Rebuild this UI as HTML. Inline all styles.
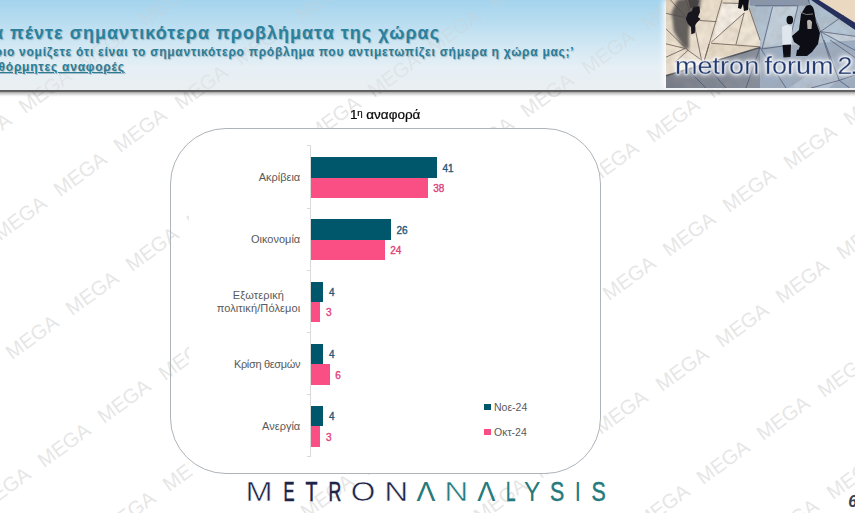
<!DOCTYPE html>
<html lang="el"><head><meta charset="utf-8"><title>Τα πέντε σημαντικότερα προβλήματα της χώρας</title>
<style>
html,body{margin:0;padding:0}
body{width:855px;height:513px;overflow:hidden;position:relative;background:#fff;font-family:"Liberation Sans",sans-serif}
.abs{position:absolute}
#hdr{position:absolute;left:0;top:0;width:855px;height:90px;background:linear-gradient(to bottom,#a4d4ee 0%,#b9ddf0 26%,#d3e8f3 52%,#e5eff5 74%,#ebeff2 100%)}
#hline{position:absolute;left:0;top:90px;width:855px;height:2.4px;background:linear-gradient(#5a5a5a,#686868)}
#hsh{position:absolute;left:0;top:92.4px;width:855px;height:4.6px;background:linear-gradient(rgba(0,0,0,.36),rgba(0,0,0,.14) 45%,rgba(0,0,0,.03) 80%,rgba(0,0,0,0))}
.t{position:absolute;white-space:nowrap;font-weight:bold;color:#2b7f9b;text-shadow:1px 1px 1px rgba(40,90,110,.35)}
#t1{left:-18.7px;top:22px;font-size:18px;letter-spacing:1.015px;line-height:22px;color:#2a819e}
#t2{left:-18.7px;top:45.2px;font-size:12px;letter-spacing:.745px;line-height:14px;color:#2c7c95}
#t3{left:-18.7px;top:60.2px;font-size:12px;letter-spacing:.78px;line-height:14px;color:#2c7c95;text-decoration:underline}
#wmh{position:absolute;left:0;top:0;width:855px;height:90px;overflow:hidden;opacity:.6}
#wmb{position:absolute;left:0;top:90px;width:855px;height:423px;overflow:hidden}
.wm{position:absolute;width:70px;height:24px;line-height:24px;text-align:center;font-size:20.2px;color:rgba(206,206,206,.52);transform:rotate(-36deg);white-space:nowrap}
#cw{position:absolute;left:189px;top:129px;width:411px;height:344px;background:#fff}
#box{position:absolute;left:170px;top:128px;width:429px;height:344px;border:1px solid #adb4ba;border-radius:56px}
#axis{position:absolute;left:310px;top:145.8px;width:1px;height:311px;background:#d9d9d9}
.tick{position:absolute;left:307px;width:4px;height:1px;background:#d9d9d9}
.bar{position:absolute;left:311.2px;height:20.4px}
.d{background:#00566b}
.p{background:#fa4f84}
.val{position:absolute;font-size:10px;line-height:14px;font-weight:normal;-webkit-text-stroke:.38px currentColor;white-space:nowrap}
.vd{color:#2a5a7a}
.vp{color:#e0457c}
.lab{position:absolute;right:554.8px;text-align:center;font-size:11px;line-height:13.1px;color:#595959;white-space:nowrap;transform:translateX(0)}
#ttl{position:absolute;left:350.2px;top:107.2px;white-space:nowrap;font-size:12px;line-height:16px;color:#0a0a0a;-webkit-text-stroke:.22px #0a0a0a;transform:scaleX(1.125);transform-origin:0 0}
#ttl sup{font-size:8.6px;line-height:0;vertical-align:3.4px;margin-left:-.3px}
.leg{position:absolute;left:494px;font-size:10.5px;line-height:12px;color:#595959;white-space:nowrap}
.lsq{position:absolute;left:484.4px;width:7px;height:6.2px}
#mf{position:absolute;left:675.2px;top:50.9px;font-size:24.6px;line-height:30px;transform:scaleX(1.1);transform-origin:0 0;color:#21376a;white-space:nowrap;-webkit-text-stroke:.4px rgba(205,215,232,.75);text-shadow:0 0 2px #fff,0 0 3px #fff,0 0 4px #fff,0 0 6px rgba(255,255,255,.85),0 0 8px rgba(255,255,255,.6)}
#pg{position:absolute;left:848.2px;top:493.8px;font-size:16px;line-height:16px;font-weight:bold;font-style:italic;color:#394152}
</style></head><body>
<div id="hdr"></div>
<div id="wmh"><span class="wm" style="left:10.0px;top:79.0px">MEGA</span><span class="wm" style="left:70.4px;top:35.3px">MEGA</span><span class="wm" style="left:130.8px;top:-8.4px">MEGA</span><span class="wm" style="left:165.8px;top:74.6px">MEGA</span><span class="wm" style="left:226.2px;top:30.9px">MEGA</span><span class="wm" style="left:286.6px;top:-12.8px">MEGA</span><span class="wm" style="left:359.0px;top:62.5px">MEGA</span><span class="wm" style="left:419.4px;top:18.8px">MEGA</span><span class="wm" style="left:479.8px;top:-24.9px">MEGA</span><span class="wm" style="left:512.2px;top:83.4px">MEGA</span><span class="wm" style="left:572.6px;top:39.7px">MEGA</span><span class="wm" style="left:633.0px;top:-4.0px">MEGA</span><span class="wm" style="left:697.9px;top:63.8px">MEGA</span><span class="wm" style="left:758.3px;top:20.1px">MEGA</span><span class="wm" style="left:818.7px;top:-23.6px">MEGA</span><span class="wm" style="left:835.2px;top:90.9px">MEGA</span></div><div id="wmb"><span class="wm" style="left:-50.4px;top:32.7px">MEGA</span><span class="wm" style="left:10.0px;top:-11.0px">MEGA</span><span class="wm" style="left:-15.4px;top:115.7px">MEGA</span><span class="wm" style="left:45.0px;top:72.0px">MEGA</span><span class="wm" style="left:105.4px;top:28.3px">MEGA</span><span class="wm" style="left:165.8px;top:-15.4px">MEGA</span><span class="wm" style="left:-63.8px;top:278.4px">MEGA</span><span class="wm" style="left:-3.4px;top:234.7px">MEGA</span><span class="wm" style="left:57.0px;top:191.0px">MEGA</span><span class="wm" style="left:117.4px;top:147.3px">MEGA</span><span class="wm" style="left:177.8px;top:103.6px">MEGA</span><span class="wm" style="left:238.2px;top:59.9px">MEGA</span><span class="wm" style="left:298.6px;top:16.2px">MEGA</span><span class="wm" style="left:359.0px;top:-27.5px">MEGA</span><span class="wm" style="left:-31.4px;top:386.7px">MEGA</span><span class="wm" style="left:29.0px;top:343.0px">MEGA</span><span class="wm" style="left:89.4px;top:299.3px">MEGA</span><span class="wm" style="left:149.8px;top:255.6px">MEGA</span><span class="wm" style="left:210.2px;top:211.9px">MEGA</span><span class="wm" style="left:270.6px;top:168.2px">MEGA</span><span class="wm" style="left:331.0px;top:124.5px">MEGA</span><span class="wm" style="left:391.4px;top:80.8px">MEGA</span><span class="wm" style="left:451.8px;top:37.1px">MEGA</span><span class="wm" style="left:512.2px;top:-6.6px">MEGA</span><span class="wm" style="left:93.9px;top:410.8px">MEGA</span><span class="wm" style="left:154.3px;top:367.1px">MEGA</span><span class="wm" style="left:214.7px;top:323.4px">MEGA</span><span class="wm" style="left:275.1px;top:279.7px">MEGA</span><span class="wm" style="left:335.5px;top:236.0px">MEGA</span><span class="wm" style="left:395.9px;top:192.3px">MEGA</span><span class="wm" style="left:456.3px;top:148.6px">MEGA</span><span class="wm" style="left:516.7px;top:104.9px">MEGA</span><span class="wm" style="left:577.1px;top:61.2px">MEGA</span><span class="wm" style="left:637.5px;top:17.5px">MEGA</span><span class="wm" style="left:697.9px;top:-26.2px">MEGA</span><span class="wm" style="left:291.6px;top:394.2px">MEGA</span><span class="wm" style="left:352.0px;top:350.5px">MEGA</span><span class="wm" style="left:412.4px;top:306.8px">MEGA</span><span class="wm" style="left:472.8px;top:263.1px">MEGA</span><span class="wm" style="left:533.2px;top:219.4px">MEGA</span><span class="wm" style="left:593.6px;top:175.7px">MEGA</span><span class="wm" style="left:654.0px;top:132.0px">MEGA</span><span class="wm" style="left:714.4px;top:88.3px">MEGA</span><span class="wm" style="left:774.8px;top:44.6px">MEGA</span><span class="wm" style="left:835.2px;top:0.9px">MEGA</span><span class="wm" style="left:465.3px;top:397.6px">MEGA</span><span class="wm" style="left:525.7px;top:353.9px">MEGA</span><span class="wm" style="left:586.1px;top:310.2px">MEGA</span><span class="wm" style="left:646.5px;top:266.5px">MEGA</span><span class="wm" style="left:706.9px;top:222.8px">MEGA</span><span class="wm" style="left:767.3px;top:179.1px">MEGA</span><span class="wm" style="left:827.7px;top:135.4px">MEGA</span><span class="wm" style="left:627.6px;top:403.7px">MEGA</span><span class="wm" style="left:688.0px;top:360.0px">MEGA</span><span class="wm" style="left:748.4px;top:316.3px">MEGA</span><span class="wm" style="left:808.8px;top:272.6px">MEGA</span><span class="wm" style="left:757.1px;top:418.7px">MEGA</span><span class="wm" style="left:817.5px;top:375.0px">MEGA</span></div>
<svg id="photo" width="189" height="88" viewBox="0 0 189 88" style="position:absolute;left:666px;top:0;box-shadow:-3px 0 5px rgba(255,255,255,.85)">
<defs>
<linearGradient id="gb" x1="0" y1="0" x2="1" y2="1"><stop offset="0" stop-color="#e9dbc6"/><stop offset=".5" stop-color="#efe5d6"/><stop offset="1" stop-color="#e0d1bb"/></linearGradient>
<linearGradient id="gbl" x1="0" y1="0" x2="0" y2="1"><stop offset="0" stop-color="#a9bbcd"/><stop offset=".6" stop-color="#b9c9d8"/><stop offset="1" stop-color="#95a6bb"/></linearGradient>
<linearGradient id="gw" x1="0" y1="0" x2="1" y2="0"><stop offset="0" stop-color="#767c87"/><stop offset=".5" stop-color="#858e9d"/><stop offset="1" stop-color="#93a2b7"/></linearGradient>
<filter id="bl1" x="-30%" y="-30%" width="160%" height="160%"><feGaussianBlur stdDeviation="1.5"/></filter>
<filter id="bl0" x="-30%" y="-30%" width="160%" height="160%"><feGaussianBlur stdDeviation=".55"/></filter>
<filter id="soft" x="0" y="0" width="100%" height="100%"><feGaussianBlur stdDeviation=".45"/></filter>
<filter id="nz" x="0" y="0" width="100%" height="100%"><feTurbulence type="fractalNoise" baseFrequency=".12" numOctaves="2" seed="7"/><feColorMatrix type="matrix" values="0 0 0 0 .35  0 0 0 0 .3  0 0 0 0 .25  .9 0 0 0 -.28"/></filter>
<clipPath id="pc"><rect width="189" height="88"/></clipPath>
</defs>
<g clip-path="url(#pc)"><g filter="url(#soft)">
<rect x="-2" y="-2" width="193" height="92" fill="url(#gb)"/>
<!-- lighter beige tiles -->
<polygon points="57,3 75,3.5 78,13 46,42" fill="#f5efe5"/>
<polygon points="29,28 50,22 42,46 36,60" fill="#efe4d3"/>
<polygon points="78,13 94,40 94,46 70,44.5" fill="#efe5d5"/>
<polygon points="0,0 30,0 19,17 0,13.5" fill="#e3d4be"/>
<polygon points="45.5,43.3 94,46.8 60,56 38,60" fill="#e6d9c5"/>
<!-- blue region -->
<polygon points="83,-2 191,-2 191,90 94,90 94,40 83,8" fill="url(#gbl)"/>
<polygon points="83,-2 145,-2 142,5.8 84,5.8" fill="#8796ad"/>
<polygon points="106.5,7 132,5.8 124,38 98,48" fill="#c1cfdc"/>
<polygon points="154.5,31.6 191,36 191,50 " fill="#c5d2de"/>
<polygon points="154.5,31.6 178,15 191,29 191,36" fill="#b3c4d4"/>
<!-- dark wedge bottom-left -->
<polygon points="-2,76.3 94,47.6 191,58 191,90 -2,90" fill="url(#gw)"/>
<polygon points="94,47.5 191,40 191,90 94,90" fill="#9dadc1"/>
<polygon points="120,90 164,60 173,80 160,90" fill="#b2c0d1"/>
<path d="M-2,76.3 L94,47.6" stroke="#3b3b44" stroke-width="1.6" fill="none" opacity=".85"/>
<rect x="0" y="0" width="189" height="88" filter="url(#nz)" opacity=".5"/>
<!-- navy band + beige corner -->
<polygon points="150,-2 191,-2 191,24" fill="#ead9c0"/>
<polygon points="142.2,-2 149.5,-2 191,24.06 191,31.2" fill="#252e5a"/>
<!-- tile lines -->
<g stroke="#70635a" stroke-width=".95" fill="none" stroke-linecap="round" opacity=".9">
<path d="M4.5,0 L21,18 M0.4,13.5 L19,17.5 M0.4,29.2 L22,50.3 L35.5,60 M0.4,43.9 L19,48.5 M29,28 L35.5,60 M56,0 L38.5,60 M33.8,20.5 L50,21.6 M45.5,43.3 L94,46.8 M45.5,42 L78.2,12.9 L70,44.4 M57,3 L74.7,3.5 M83,8 L94,40 M0.4,57 L19,48.5 M9.2,62 L22,50.3 M43,44.4 L38.4,60 M20,0 L29,28"/>
</g>
<g stroke="#3f4a66" stroke-width=".8" fill="none" opacity=".8">
<path d="M89,5.8 L132.3,5.8 M106.5,7 L96,49 M132,5.8 L124,38.6 M154.5,31.6 L189,36.3 M154.5,31.6 L189,50.3 M154.5,31.6 L164,60 M154.5,31.6 L142.2,0 M154.5,31.6 L178,15.2 M158,40 L173.2,80.4 L183.7,88 M189,57.5 L164,40 M173.2,80.4 L189,75 M173.2,80.4 L145,88 M96,49 L124,45 M35.5,60 L60,88 M22,70 L40,88 M94,47.5 L120,88 M94,47.5 L80,88"/>
</g>
<!-- figure 1 with shadow -->
<path d="M11,0 L24,-3 L35,-3 L34,8 L26,14 L23,30 L23,50 L17,47 L8,32 L5.5,13 Z" fill="#4e4a4a" opacity=".85" filter="url(#bl1)"/>
<path d="M27.5,6 L33.5,6.5 L34,12 L32,17 L34.5,19 L31,22.5 L29.3,25 L28.8,33 L25.3,34.2 L25,27 L22,24 L19.8,19 L22,13 L26,11 Z" fill="#15141c" filter="url(#bl0)"/>
<path d="M22,-1 Q28,-2 33,1 L31,7 L24,8 Z" fill="#403c3c" opacity=".8" filter="url(#bl0)"/>
<!-- figure 2 (legs at top) -->
<path d="M73,-1 L83,-1 L82,10 L78,11 L77,4 L75,9 L72,8 Z" fill="#0d0d14"/>
<!-- white shirt person -->
<ellipse cx="123.8" cy="20" rx="3.3" ry="4.2" fill="#0b0b12"/>
<path d="M116,27 Q121,23 126,27 L125.5,45 L116.5,46 Z" fill="#dfe6ee"/>
<path d="M116.5,45 L125,44.5 L124.5,57 L117.5,57.5 Z" fill="#0c0c12"/>
<!-- dark couple -->
<path d="M140,6 Q146,3 148,10 L150,22 L154,33 L152,44 L146,52 L141,56 L131,54 L134,46 L128,42 L126,36 L133,30 L135,14 Z" fill="#0b0b13" filter="url(#bl0)"/>
<path d="M141,21 Q143.5,18 146,22 L145.5,29 L141.5,29 Z" fill="#b9b4b0"/>
<path d="M134,12 Q140,16 147,14" stroke="#9a9690" stroke-width=".8" fill="none"/>
<path d="M131,50 L140,48 L141,56 L130,56 Z" fill="#0b0b13"/>
</g></g>
</svg>
<div id="mf">metron <span style="margin-left:-2px;letter-spacing:-.05px">forum</span><span style="margin-left:-3.2px"> <span style="letter-spacing:-2px">2</span>.0</span></div>

<div class="t" id="t1">Τα πέντε σημαντικότερα προβλήματα της χώρας</div>
<div class="t" id="t2">‘Ποιο νομίζετε ότι είναι το σημαντικότερο πρόβλημα που αντιμετωπίζει σήμερα η χώρα μας;’</div>
<div class="t" id="t3">Αυθόρμητες αναφορές</div>
<div id="hline"></div><div id="hsh"></div>
<div id="cw"></div>
<div id="box"></div>
<div id="ttl">1<sup>η</sup> αναφορά</div>
<div id="axis"></div><div class="tick" style="top:145.3px"></div><div class="tick" style="top:207.5px"></div><div class="tick" style="top:269.7px"></div><div class="tick" style="top:331.9px"></div><div class="tick" style="top:394.1px"></div><div class="tick" style="top:456.3px"></div>
<div class="bar d" style="top:157.2px;width:125.6px"></div><div class="bar p" style="top:177.6px;width:116.4px"></div><div class="val vd" style="top:161.6px;left:442.4px">41</div><div class="val vp" style="top:182.0px;left:433.2px">38</div><div class="lab" style="top:171.0px">Ακρίβεια</div><div class="bar d" style="top:219.4px;width:79.6px"></div><div class="bar p" style="top:239.8px;width:73.5px"></div><div class="val vd" style="top:223.8px;left:396.4px">26</div><div class="val vp" style="top:244.2px;left:390.3px">24</div><div class="lab" style="top:233.2px">Οικονομία</div><div class="bar d" style="top:281.6px;width:12.3px"></div><div class="bar p" style="top:302.0px;width:9.2px"></div><div class="val vd" style="top:286.0px;left:329.1px">4</div><div class="val vp" style="top:306.4px;left:326.0px">3</div><div class="lab" style="top:288.9px;letter-spacing:.1px">Εξωτερική<br>πολιτική/Πόλεμοι</div><div class="bar d" style="top:343.8px;width:12.3px"></div><div class="bar p" style="top:364.2px;width:18.4px"></div><div class="val vd" style="top:348.2px;left:329.1px">4</div><div class="val vp" style="top:368.6px;left:335.2px">6</div><div class="lab" style="top:357.6px;letter-spacing:-.33px">Κρίση θεσμών</div><div class="bar d" style="top:406.0px;width:12.3px"></div><div class="bar p" style="top:426.4px;width:9.2px"></div><div class="val vd" style="top:410.4px;left:329.1px">4</div><div class="val vp" style="top:430.8px;left:326.0px">3</div><div class="lab" style="top:419.8px">Ανεργία</div>
<div class="lsq d" style="top:404.2px"></div><div class="leg" style="top:400.6px">Νοε-24</div>
<div class="lsq p" style="top:429.3px"></div><div class="leg" style="top:425.7px">Οκτ-24</div>
<svg id="logo" width="400" height="40" viewBox="0 0 400 40" style="position:absolute;left:230px;top:473px;font-family:'Liberation Sans',sans-serif;font-size:27.0px">
<text transform="translate(15.50,27.60) scale(1.204,1)" fill="#1e2446" stroke="#fff" stroke-width=".55" vector-effect="non-scaling-stroke">M</text>
<text transform="translate(53.58,27.60) scale(0.613,1)" fill="#1e2446" stroke="#1e2446" stroke-width=".45" vector-effect="non-scaling-stroke">E</text>
<text transform="translate(75.61,27.60) scale(0.728,1)" fill="#1e2446" stroke="#1e2446" stroke-width=".45" vector-effect="non-scaling-stroke">T</text>
<text transform="translate(98.39,27.60) scale(0.654,1)" fill="#1e2446" stroke="#1e2446" stroke-width=".45" vector-effect="non-scaling-stroke">R</text>
<text transform="translate(120.64,27.60) scale(1.170,1)" fill="#1e2446" stroke="#fff" stroke-width=".55" vector-effect="non-scaling-stroke">O</text>
<text transform="translate(154.33,27.60) scale(1.235,1)" fill="#1e2446" stroke="#fff" stroke-width=".55" vector-effect="non-scaling-stroke">N</text>
<text transform="translate(186.50,27.60) scale(1.045,1)" fill="#257a7d">Λ</text>
<text transform="translate(214.33,27.60) scale(1.235,1)" fill="#257a7d" stroke="#fff" stroke-width=".55" vector-effect="non-scaling-stroke">N</text>
<text transform="translate(247.20,27.60) scale(1.006,1)" fill="#257a7d">Λ</text>
<text transform="translate(276.03,27.60) scale(0.634,1)" fill="#257a7d" stroke="#257a7d" stroke-width=".45" vector-effect="non-scaling-stroke">L</text>
<text transform="translate(294.01,27.60) scale(0.911,1)" fill="#257a7d">Y</text>
<text transform="translate(320.05,27.60) scale(0.791,1)" fill="#257a7d" stroke="#257a7d" stroke-width=".45" vector-effect="non-scaling-stroke">S</text>
<text transform="translate(344.82,27.60) scale(0.815,1)" fill="#257a7d">I</text>
<text transform="translate(361.45,27.60) scale(0.791,1)" fill="#257a7d" stroke="#257a7d" stroke-width=".45" vector-effect="non-scaling-stroke">S</text>
</svg>
<div id="pg">6</div>
</body></html>
